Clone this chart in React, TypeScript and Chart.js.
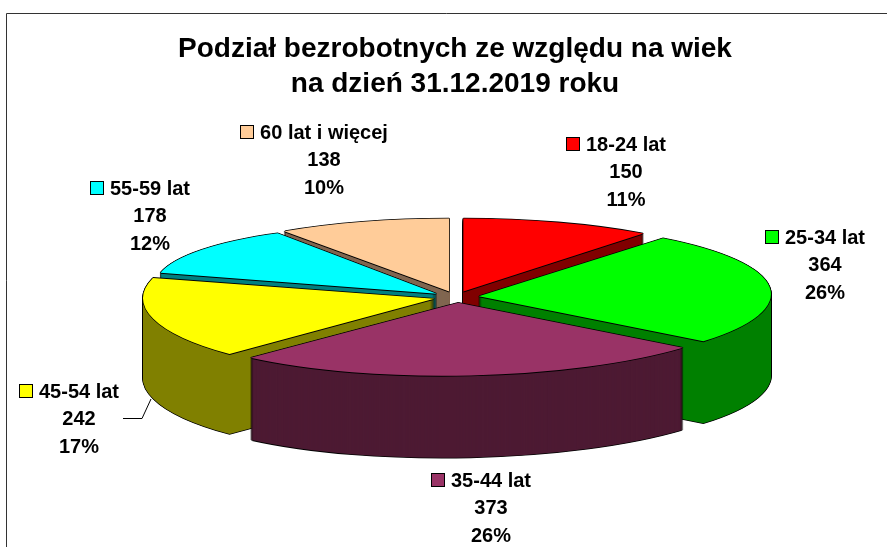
import React, { useEffect, useRef } from "react";
import { Chart, registerables } from "chart.js";

Chart.register(...registerables);

const titleLines = ["Podział bezrobotnych ze względu na wiek", "na dzień 31.12.2019 roku"];
const categories = ["18-24 lat", "25-34 lat", "35-44 lat", "45-54 lat", "55-59 lat", "60 lat i więcej"];
const values = [150, 364, 373, 242, 178, 138];
const percents = ["11%", "26%", "26%", "17%", "12%", "10%"];
const topColors = ["#FF0000", "#00FF00", "#993366", "#FFFF00", "#00FFFF", "#FFCC99"];
const wallColors = ["#800000", "#008000", "#4D1A33", "#808000", "#008080", "#806650"];

// Placement of each data label: text centre x, and y of the first line
const labelPlaces = [
  { x: 626, y: 145 },
  { x: 825, y: 238 },
  { x: 491, y: 481 },
  { x: 79, y: 392 },
  { x: 150, y: 189 },
  { x: 324, y: 133 },
];
const paintOrder = [5, 0, 4, 1, 3, 2];

// Per-slice view distortion that imitates the 3D perspective of the original
const widen = [1.015, 1, 1.02, 0.995, 0.965, 1];
const deepen = [1, 1, 1, 1.07, 0.93, 1];
const slant = [0, -0.12, -0.22, -0.24, 0, 0];
const tilt = [0, 0, 0, 0.02, 0.028, 0];
const depths = [80, 82, 82, 80, 80, 80];

const CX = 456;
const CY = 297;
const RX = 292;
const RY = 73;
const EXPLODE = 23;
const LABEL_FONT = 'bold 20px "Liberation Sans", Arial, sans-serif';
const TITLE_FONT = 'bold 28px "Liberation Sans", Arial, sans-serif';

const pie3d = {
  id: "pie3d",
  beforeDatasetsDraw(chart: any) {
    const ctx = chart.ctx;
    const arcs = chart.getDatasetMeta(0).data;
    paintOrder.forEach((i) => {
      const arc = arcs[i];
      const mid = (arc.startAngle + arc.endAngle) / 2;
      const ox = CX + Math.cos(mid) * EXPLODE;
      const oy = CY + (Math.sin(mid) * EXPLODE * RY) / RX;
      const place = (dx: number, dy: number) => {
        ctx.save();
        ctx.translate(ox + dx, oy + dy);
        ctx.transform(1, tilt[i], slant[i], 1, 0, 0);
        ctx.scale((RX * widen[i]) / arc.outerRadius, (RY * deepen[i]) / arc.outerRadius);
        ctx.translate(-arc.x, -arc.y);
        arc.draw(ctx);
        ctx.restore();
      };
      const base = arc.options;
      const colored = (c: string) => {
        arc.options = { ...base, backgroundColor: c, borderColor: c, borderWidth: 0 };
      };
      const depth = depths[i];
      colored("#000000");
      for (let d = depth; d >= 0; d -= 1) {
        place(-0.8, d);
        place(0.8, d);
      }
      place(0, depth + 0.8);
      place(0, -0.8);
      colored(wallColors[i]);
      for (let d = depth; d >= 1; d -= 1) place(0, d);
      colored("#000000");
      place(0, 0.9);
      place(-0.7, 0);
      place(0.7, 0);
      colored(topColors[i]);
      place(0, 0);
      arc.options = base;
    });
    return false;
  },
  afterDraw(chart: any) {
    const ctx = chart.ctx;
    ctx.save();
    ctx.strokeStyle = "#333333";
    ctx.lineWidth = 1;
    ctx.beginPath();
    ctx.moveTo(6.5, 547);
    ctx.lineTo(6.5, 13.5);
    ctx.lineTo(887, 13.5);
    ctx.stroke();
    ctx.fillStyle = "#000000";
    ctx.textAlign = "center";
    ctx.textBaseline = "middle";
    ctx.font = TITLE_FONT;
    titleLines.forEach((t, i) => ctx.fillText(t, 455, 49 + i * 35));
    ctx.strokeStyle = "#000000";
    ctx.beginPath();
    ctx.moveTo(123, 418.5);
    ctx.lineTo(142, 418.5);
    ctx.lineTo(151, 399);
    ctx.stroke();
    ctx.font = LABEL_FONT;
    categories.forEach((name, i) => {
      const p = labelPlaces[i];
      ctx.textAlign = "center";
      ctx.fillStyle = "#000000";
      ctx.fillText(name, p.x, p.y);
      ctx.fillText(String(values[i]), p.x, p.y + 27.5);
      ctx.fillText(percents[i], p.x, p.y + 55);
      const w = ctx.measureText(name).width;
      const kx = Math.round(p.x - w / 2 - 20) + 0.5;
      const ky = Math.round(p.y - 8) + 0.5;
      ctx.fillStyle = topColors[i];
      ctx.fillRect(kx, ky, 13, 13);
      ctx.strokeStyle = "#000000";
      ctx.strokeRect(kx, ky, 13, 13);
    });
    ctx.restore();
  },
};

export default function App() {
  const ref = useRef<HTMLCanvasElement>(null);
  useEffect(() => {
    document.body.style.margin = "0";
    const chart = new Chart(ref.current as HTMLCanvasElement, {
      type: "pie",
      data: {
        labels: categories,
        datasets: [{ data: values, backgroundColor: topColors, borderWidth: 0 }],
      },
      options: {
        animation: false,
        responsive: false,
        plugins: { legend: { display: false }, tooltip: { enabled: false }, title: { display: false } },
      },
      plugins: [pie3d],
    } as any);
    return () => chart.destroy();
  }, []);
  return <canvas ref={ref} width={887} height={547} style={{ display: "block", background: "#ffffff" }} />;
}
